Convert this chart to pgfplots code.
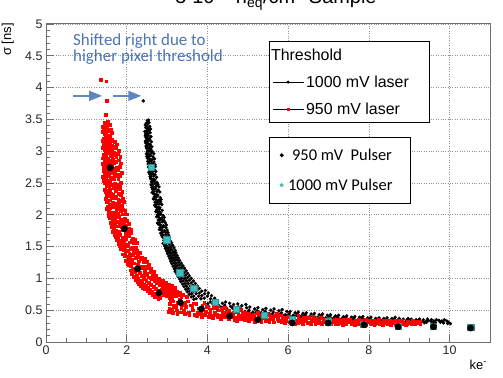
\documentclass[border=0pt]{standalone}
\usepackage{fontspec}
\setmainfont{Liberation Sans}
\newfontfamily\calibri{Carlito}
\usepackage{pgfplots}
\pgfplotsset{compat=1.18}
\usetikzlibrary{arrows.meta}
\definecolor{annblue}{HTML}{4A74B4}
\definecolor{arrblue}{HTML}{5F86BE}
\definecolor{pulcyan}{HTML}{3CBFBF}
\definecolor{framegrey}{HTML}{6E6E6E}

\begin{document}
\begin{tikzpicture}
\pgfplotsset{
  rootframe/.style={
    at={(46bp,36bp)}, anchor=south west,
    scale only axis, width=444bp, height=318bp,
    xmin=0, xmax=11, ymin=0, ymax=5,
  },
  lineleg/.style={legend image code/.code={
      \draw[black,line width=0.8bp] (0bp,0bp) -- (31bp,0bp);
      \draw[##1] plot coordinates {(15.5bp,0bp)};}},
  dotleg/.style={legend image code/.code={
      \path (0bp,0bp) (12bp,0bp);
      \draw[##1] plot coordinates {(8bp,0bp)};}},
  noleg/.style={legend image code/.code={\path (0bp,0bp);}},
}
% main axis: laser scans
\begin{axis}[rootframe,
  xtick={0,2,...,10}, ytick={0,0.5,...,5},
  minor x tick num=3, minor y tick num=4,
  tick align=inside, xtick pos=left, ytick pos=left,
  major tick length=8bp, minor tick length=4bp,
  tick style={framegrey, line width=0.6bp},
  axis line style={framegrey, line width=1bp},
  grid=major, major grid style={dotted, gray!85, line width=0.6bp},
  ticklabel style={font=\fontsize{12.5}{14}\selectfont, text=black!85},
  /pgf/number format/assume math mode=true,
  /pgf/number format/fixed,
  legend style={at={(rel axis cs:0.502,0.946)}, anchor=north west,
    draw=black, line width=0.8bp, fill=white,
    font=\fontsize{16}{18}\selectfont, row sep=10bp,
    inner xsep=3bp, inner ysep=5bp},
  legend cell align=left,
]
\addlegendimage{noleg}
\addlegendentry{\hspace*{-35bp}Threshold}
\addlegendimage{lineleg, only marks, mark=*, black, mark size=1.1bp}
\addlegendentry{\makebox[118bp][l]{1000 mV laser}}
\addlegendimage{lineleg, only marks, mark=square*, red, mark size=1.1bp}
\addlegendentry{950 mV laser}

% 1000 mV laser
\addplot[forget plot, only marks, mark=*, black, mark size=1.5bp] coordinates {
(2.41,3.79)
(2.51,3.48)(2.54,3.49)(2.48,3.44)(2.55,3.45)(2.52,3.43)(2.50,3.40)(2.46,3.41)(2.57,3.39)
(2.53,3.36)(2.47,3.37)(2.59,3.35)(2.50,3.36)(2.49,3.32)(2.56,3.33)(2.45,3.31)(2.52,3.32)
(2.51,3.28)(2.58,3.29)(2.47,3.27)(2.54,3.28)(2.46,3.24)(2.53,3.25)(2.60,3.23)(2.50,3.24)
(2.52,3.20)(2.48,3.21)(2.57,3.19)(2.55,3.20)(2.49,3.16)(2.55,3.17)(2.61,3.15)(2.46,3.16)
(2.53,3.12)(2.47,3.13)(2.58,3.11)(2.51,3.12)(2.50,3.08)(2.56,3.09)(2.62,3.07)(2.48,3.08)
(2.54,3.04)(2.49,3.05)(2.60,3.03)(2.57,3.04)(2.51,3.00)(2.58,3.01)(2.64,2.99)(2.55,3.00)
(2.49,2.96)(2.61,2.97)(2.55,2.95)(2.67,2.96)(2.53,2.92)(2.59,2.93)(2.65,2.91)(2.50,2.92)
(2.56,2.88)(2.51,2.89)(2.63,2.87)(2.69,2.88)(2.52,2.84)(2.60,2.85)(2.67,2.83)(2.57,2.84)
(2.55,2.80)(2.62,2.81)(2.70,2.79)(2.53,2.80)(2.58,2.76)(2.65,2.77)(2.54,2.75)(2.71,2.76)
(2.56,2.72)(2.63,2.73)(2.69,2.71)(2.60,2.72)(2.59,2.68)(2.66,2.69)(2.55,2.67)(2.72,2.68)
(2.57,2.64)(2.64,2.65)(2.70,2.63)(2.61,2.64)(2.60,2.60)(2.67,2.61)(2.74,2.59)(2.58,2.60)
(2.62,2.56)(2.59,2.57)(2.70,2.55)(2.66,2.56)(2.61,2.52)(2.68,2.53)(2.75,2.51)(2.64,2.52)
(2.63,2.48)(2.70,2.49)(2.60,2.47)(2.77,2.48)(2.66,2.44)(2.73,2.45)(2.62,2.43)(2.80,2.44)
(2.64,2.40)(2.71,2.41)(2.78,2.39)(2.68,2.40)(2.67,2.36)(2.75,2.37)(2.63,2.35)(2.82,2.36)
(2.70,2.32)(2.66,2.33)(2.77,2.31)(2.73,2.32)(2.68,2.28)(2.75,2.29)(2.83,2.27)(2.71,2.28)
(2.72,2.24)(2.66,2.25)(2.79,2.23)(2.85,2.24)(2.70,2.20)(2.77,2.21)(2.74,2.19)(2.84,2.20)
(2.73,2.16)(2.80,2.17)(2.69,2.15)(2.87,2.16)(2.75,2.12)(2.71,2.13)(2.82,2.11)(2.78,2.12)
(2.74,2.08)(2.81,2.09)(2.88,2.07)(2.77,2.08)(2.78,2.04)(2.72,2.05)(2.84,2.03)(2.80,2.04)
(2.76,2.00)(2.83,2.01)(2.90,1.99)(2.79,2.00)(2.80,1.96)(2.74,1.97)(2.87,1.95)(2.93,1.96)
(2.78,1.92)(2.85,1.93)(2.92,1.91)(2.82,1.92)(2.81,1.88)(2.88,1.89)(2.76,1.87)(2.95,1.88)
(2.84,1.84)(2.79,1.85)(2.91,1.83)(2.98,1.84)(2.83,1.80)(2.90,1.81)(2.86,1.79)(2.97,1.80)
(2.86,1.76)(2.81,1.77)(2.93,1.75)(3.00,1.76)(2.88,1.72)(2.95,1.73)(2.84,1.71)(3.02,1.72)
(2.90,1.68)(2.97,1.69)(2.87,1.67)(3.04,1.68)(2.93,1.64)(2.89,1.65)(3.00,1.63)(3.06,1.64)
(2.92,1.60)(3.00,1.61)(3.08,1.59)(2.96,1.60)(2.95,1.56)(3.03,1.57)(2.90,1.55)(3.11,1.56)
(2.98,1.52)(3.06,1.53)(2.94,1.51)(3.14,1.52)
(3.00,1.48)(3.09,1.49)(2.96,1.47)(3.17,1.48)(3.04,1.48)(3.03,1.44)(3.12,1.45)(2.99,1.43)(3.20,1.44)(3.07,1.44)
(3.06,1.40)(3.15,1.41)(3.01,1.39)(3.22,1.40)(3.10,1.40)(3.08,1.36)(3.18,1.37)(3.04,1.35)(3.25,1.36)(3.13,1.36)
(3.11,1.32)(3.21,1.33)(3.07,1.31)(3.28,1.32)(3.16,1.32)(3.14,1.28)(3.24,1.29)(3.09,1.27)(3.31,1.28)(3.19,1.28)
(3.17,1.24)(3.28,1.25)(3.12,1.23)(3.35,1.24)(3.22,1.24)(3.20,1.20)(3.31,1.21)(3.15,1.19)(3.39,1.20)(3.25,1.20)
(3.22,1.16)(3.35,1.17)(3.18,1.15)(3.43,1.16)(3.29,1.16)(3.26,1.12)(3.38,1.13)(3.20,1.11)(3.47,1.12)(3.32,1.12)
(3.29,1.08)(3.42,1.09)(3.24,1.07)(3.51,1.08)(3.36,1.08)(3.33,1.04)(3.46,1.05)(3.27,1.03)(3.55,1.04)(3.40,1.04)
(3.36,1.00)(3.50,1.01)(3.31,0.99)(3.60,1.00)(3.44,1.00)(3.40,0.96)(3.55,0.97)(3.34,0.95)(3.65,0.96)(3.48,0.96)
(3.44,0.92)(3.60,0.93)(3.38,0.91)(3.70,0.92)(3.52,0.92)(3.48,0.88)(3.64,0.89)(3.42,0.87)(3.75,0.88)(3.57,0.88)
(3.52,0.84)(3.69,0.85)(3.46,0.83)(3.80,0.84)(3.62,0.84)
(3.56,0.80)(3.74,0.81)(3.50,0.79)(3.86,0.80)(3.66,0.80)(3.95,0.81)(3.61,0.76)(3.80,0.77)(3.55,0.75)(3.93,0.76)(3.72,0.76)(4.02,0.77)
(3.66,0.72)(3.86,0.73)(3.60,0.71)(4.00,0.72)(3.78,0.72)(4.10,0.73)(3.72,0.68)(3.92,0.69)(3.66,0.67)(4.08,0.68)(3.84,0.68)(4.18,0.69)
(4.03,0.56)(4.07,0.63)(4.05,0.52)(4.01,0.60)(4.13,0.60)(4.17,0.54)(4.15,0.66)
(4.23,0.52)(4.27,0.58)(4.25,0.64)(4.21,0.55)(4.33,0.55)(4.37,0.61)(4.35,0.50)
(4.43,0.58)(4.47,0.53)(4.45,0.63)(4.41,0.56)(4.53,0.50)(4.57,0.56)(4.55,0.61)
(4.63,0.53)(4.67,0.47)(4.65,0.59)(4.61,0.55)(4.73,0.49)(4.77,0.55)(4.75,0.60)
(4.83,0.52)(4.87,0.46)(4.85,0.57)(4.81,0.50)(4.93,0.48)(4.97,0.54)(4.95,0.59)
(5.03,0.50)(5.07,0.45)(5.05,0.55)(5.01,0.48)(5.13,0.47)(5.17,0.52)(5.15,0.42)
(5.23,0.49)(5.27,0.44)(5.25,0.54)(5.21,0.47)(5.33,0.46)(5.37,0.51)(5.35,0.41)
(5.43,0.48)(5.47,0.43)(5.45,0.53)(5.41,0.45)(5.53,0.45)(5.57,0.50)(5.55,0.41)
(5.63,0.47)(5.67,0.42)(5.65,0.52)(5.61,0.44)(5.73,0.44)(5.77,0.49)(5.75,0.40)
(5.83,0.46)(5.87,0.42)(5.85,0.51)(5.81,0.44)(5.93,0.43)(5.97,0.48)(5.95,0.40)
(6.03,0.45)(6.07,0.40)(6.05,0.48)(6.01,0.43)(6.13,0.42)(6.17,0.46)(6.15,0.38)
(6.23,0.44)(6.27,0.39)(6.25,0.47)(6.21,0.42)(6.33,0.41)(6.37,0.45)(6.35,0.37)
(6.43,0.43)(6.47,0.39)(6.45,0.46)(6.41,0.41)(6.53,0.40)(6.57,0.44)(6.55,0.37)
(6.63,0.42)(6.67,0.38)(6.65,0.45)(6.61,0.40)(6.73,0.39)(6.77,0.43)(6.75,0.36)
(6.83,0.41)(6.87,0.37)(6.85,0.44)(6.81,0.39)(6.93,0.38)(6.97,0.42)(6.95,0.36)
(7.03,0.40)(7.07,0.36)(7.05,0.43)(7.01,0.38)(7.13,0.38)(7.17,0.41)(7.15,0.34)
(7.23,0.39)(7.27,0.35)(7.25,0.42)(7.21,0.37)(7.33,0.37)(7.37,0.40)(7.35,0.34)
(7.43,0.38)(7.47,0.35)(7.45,0.41)(7.41,0.36)(7.53,0.36)(7.57,0.39)(7.55,0.33)
(7.63,0.38)(7.67,0.34)(7.65,0.40)(7.61,0.36)(7.73,0.35)(7.77,0.39)(7.75,0.37)
(7.83,0.37)(7.87,0.33)(7.85,0.40)(7.81,0.35)(7.93,0.35)(7.97,0.38)(7.95,0.34)
(8.03,0.36)(8.07,0.33)(8.05,0.39)(8.01,0.35)(8.13,0.34)(8.17,0.37)(8.15,0.31)
(8.23,0.36)(8.27,0.32)(8.25,0.38)(8.21,0.34)(8.33,0.33)(8.37,0.37)(8.35,0.35)
(8.43,0.35)(8.47,0.31)(8.45,0.38)(8.41,0.33)(8.53,0.34)(8.57,0.37)(8.55,0.32)
(8.63,0.36)(8.67,0.33)(8.65,0.39)(8.61,0.34)(8.73,0.32)(8.77,0.35)(8.75,0.37)
(8.83,0.34)(8.87,0.31)(8.85,0.36)(8.81,0.33)(8.93,0.33)(8.97,0.37)(8.95,0.35)
(9.03,0.34)(9.07,0.31)(9.05,0.36)(9.01,0.33)(9.13,0.32)(9.17,0.35)(9.15,0.30)
(9.23,0.34)(9.27,0.31)(9.25,0.36)(9.21,0.33)(9.33,0.33)(9.37,0.30)(9.35,0.35)
(9.43,0.31)(9.47,0.34)(9.45,0.36)(9.41,0.32)(9.53,0.33)(9.57,0.30)(9.55,0.35)
(9.63,0.32)(9.67,0.35)(9.65,0.30)(9.61,0.33)(9.73,0.34)(9.77,0.31)(9.75,0.33)
(9.83,0.32)(9.87,0.35)(9.85,0.30)(9.81,0.33)(9.93,0.33)(9.97,0.31)(9.95,0.29)
(10.02,0.29)
};

% 950 mV laser
\addplot[forget plot, only marks, mark=square*, red, mark size=1.4bp] coordinates {
(1.36,4.12)(1.49,4.10)(1.50,3.80)(1.48,3.58)
(1.44,3.45)(1.52,3.47)(1.47,3.40)(1.58,3.42)(1.41,3.39)(1.50,3.35)(1.43,3.37)(1.61,3.34)
(1.46,3.30)(1.55,3.32)(1.62,3.29)(1.40,3.31)(1.52,3.25)(1.44,3.27)(1.59,3.24)(1.49,3.26)
(1.42,3.20)(1.56,3.22)(1.63,3.19)(1.48,3.21)(1.53,3.18)
(1.45,3.15)(1.60,3.17)(1.51,3.14)(1.41,3.16)(1.57,3.13)(1.70,3.15)
(1.49,3.10)(1.43,3.12)(1.62,3.09)(1.54,3.11)(1.66,3.08)(1.76,3.11)
(1.41,3.05)(1.53,3.07)(1.58,3.04)(1.46,3.06)(1.64,3.03)(1.72,3.06)
(1.50,3.00)(1.44,3.02)(1.61,2.99)(1.56,3.01)(1.68,2.98)(1.80,3.01)
(1.42,2.95)(1.55,2.97)(1.70,2.94)(1.48,2.96)(1.62,2.93)(1.78,2.96)
(1.47,2.90)(1.60,2.92)(1.41,2.89)(1.74,2.91)(1.53,2.88)(1.84,2.91)
(1.44,2.85)(1.66,2.87)(1.51,2.84)(1.58,2.86)(1.72,2.83)(1.80,2.86)
(1.40,2.80)(1.57,2.82)(1.49,2.79)(1.68,2.81)(1.63,2.78)(1.86,2.81)
(1.46,2.75)(1.54,2.77)(1.75,2.74)(1.43,2.76)(1.61,2.73)(1.82,2.76)
(1.50,2.70)(1.65,2.72)(1.42,2.69)(1.58,2.71)(1.71,2.68)(1.78,2.71)
(1.45,2.65)(1.53,2.67)(1.69,2.64)(1.62,2.66)(1.77,2.63)(1.87,2.66)
(1.41,2.60)(1.56,2.62)(1.48,2.59)(1.73,2.61)(1.64,2.58)(1.83,2.61)
(1.47,2.55)(1.60,2.57)(1.52,2.54)(1.67,2.56)(1.43,2.53)(1.79,2.56)
(1.44,2.50)(1.58,2.52)(1.70,2.49)(1.50,2.51)(1.76,2.48)(1.86,2.51)
(1.49,2.45)(1.62,2.47)(1.78,2.44)(1.55,2.46)(1.70,2.43)(1.84,2.46)
(1.46,2.40)(1.67,2.42)(1.58,2.39)(1.83,2.41)(1.52,2.38)(1.74,2.41)
(1.51,2.35)(1.73,2.37)(1.60,2.34)(1.47,2.36)(1.80,2.33)(1.89,2.36)
(1.55,2.30)(1.66,2.32)(1.49,2.29)(1.86,2.31)(1.74,2.28)(1.60,2.31)
(1.48,2.25)(1.62,2.27)(1.79,2.24)(1.70,2.26)(1.57,2.23)(1.90,2.26)
(1.53,2.20)(1.85,2.22)(1.65,2.19)(1.50,2.21)(1.75,2.18)(1.93,2.21)
(1.58,2.15)(1.71,2.17)(1.89,2.14)(1.62,2.16)(1.52,2.13)(1.80,2.16)
(1.50,2.10)(1.67,2.12)(1.80,2.09)(1.59,2.11)(1.91,2.08)(1.74,2.11)
(1.56,2.05)(1.74,2.07)(1.63,2.04)(1.86,2.06)(1.69,2.03)(1.96,2.06)
(1.60,2.00)(1.78,2.02)(1.54,1.99)(1.90,2.01)(1.70,1.98)(1.99,2.01)
(1.62,1.95)(1.80,1.97)(1.95,1.94)(1.71,1.96)(1.88,1.93)(1.58,1.96)
(1.66,1.90)(1.85,1.92)(1.75,1.89)(2.00,1.91)(1.60,1.88)(1.93,1.91)
(1.70,1.85)(1.92,1.87)(1.63,1.84)(1.82,1.86)(1.98,1.83)(2.05,1.86)
(1.68,1.80)(1.77,1.82)(1.96,1.79)(1.87,1.81)(2.04,1.78)(1.62,1.81)
(1.72,1.75)(1.90,1.77)(1.81,1.74)(2.02,1.76)(1.66,1.73)(2.10,1.76)
(1.75,1.70)(1.96,1.72)(1.84,1.69)(2.10,1.71)(1.69,1.68)(2.02,1.71)
(1.78,1.65)(2.05,1.67)(1.90,1.64)(1.72,1.66)(2.15,1.63)(1.98,1.66)
(1.82,1.60)(1.98,1.62)(2.12,1.59)(1.76,1.61)(1.92,1.58)(2.20,1.61)
(1.86,1.55)(2.08,1.57)(1.80,1.54)(2.18,1.56)(1.97,1.53)(2.24,1.56)
(1.89,1.50)(2.02,1.52)(2.15,1.49)(1.83,1.51)(2.22,1.48)(1.95,1.51)
(1.92,1.45)(2.10,1.47)(2.26,1.44)(1.85,1.46)(2.03,1.43)(2.18,1.46)
(1.96,1.40)(2.18,1.42)(2.06,1.39)(2.32,1.41)(1.90,1.38)(2.25,1.41)
(2.00,1.35)(2.14,1.37)(2.28,1.34)(1.94,1.36)(2.38,1.33)(2.08,1.36)
(2.04,1.30)(2.22,1.32)(2.12,1.29)(2.35,1.31)(1.98,1.28)(2.44,1.31)
(2.08,1.25)(2.30,1.27)(2.18,1.24)(2.42,1.26)(2.02,1.23)(2.50,1.26)
(2.10,1.20)(2.28,1.22)(2.45,1.19)(2.05,1.21)(2.36,1.18)(2.55,1.21)
(2.15,1.15)(2.38,1.17)(2.25,1.14)(2.52,1.16)(2.09,1.13)(2.60,1.16)
(2.20,1.10)(2.44,1.12)(2.32,1.09)(2.58,1.11)(2.13,1.08)(2.66,1.11)
(2.24,1.05)(2.50,1.07)(2.37,1.04)(2.64,1.06)(2.18,1.03)(2.45,1.06)(2.72,1.05)
(2.28,1.00)(2.55,1.02)(2.42,0.99)(2.70,1.01)(2.22,0.98)(2.60,1.01)(2.80,1.00)
(2.32,0.97)(2.62,0.99)(2.48,0.96)(2.80,0.98)(2.26,0.95)(2.70,0.98)(2.90,0.97)
(2.38,0.94)(2.68,0.96)(2.54,0.93)(2.88,0.95)(2.30,0.92)(2.76,0.95)(2.98,0.94)
(2.42,0.91)(2.75,0.93)(2.60,0.90)(2.95,0.92)(2.35,0.89)(2.84,0.92)(3.05,0.91)
(2.47,0.88)(2.82,0.90)(2.66,0.87)(3.02,0.89)(2.40,0.86)(2.92,0.89)(3.12,0.88)
(2.52,0.85)(2.88,0.87)(2.72,0.84)(3.10,0.86)(2.45,0.83)(2.98,0.86)(3.20,0.85)
(2.58,0.82)(2.95,0.84)(2.78,0.81)(3.18,0.83)(2.52,0.80)(3.05,0.83)(2.86,0.82)
(2.63,0.79)(3.02,0.81)(2.85,0.78)(3.25,0.80)(2.57,0.77)(3.12,0.80)(2.92,0.79)
(2.70,0.76)(3.08,0.78)(2.92,0.75)(3.32,0.77)(2.64,0.74)(3.20,0.77)(3.00,0.76)
(2.76,0.73)(3.15,0.75)(2.98,0.72)(3.40,0.74)(2.70,0.71)(3.28,0.74)(3.06,0.73)
(2.82,0.70)(3.22,0.72)(3.05,0.69)(3.48,0.71)(2.78,0.68)(3.35,0.71)(3.12,0.70)
(3.03,0.48)(3.07,0.60)(3.05,0.53)(3.08,0.66)(3.13,0.46)(3.17,0.57)(3.15,0.64)(3.12,0.51)
(3.23,0.50)(3.27,0.62)(3.25,0.45)(3.22,0.56)(3.33,0.47)(3.37,0.59)(3.35,0.53)(3.32,0.67)
(3.43,0.44)(3.47,0.55)(3.45,0.62)(3.42,0.50)(3.53,0.46)(3.57,0.58)(3.55,0.42)(3.52,0.64)
(3.63,0.50)(3.67,0.43)(3.65,0.61)(3.62,0.55)(3.73,0.41)(3.77,0.53)(3.75,0.47)(3.72,0.60)
(3.83,0.45)(3.87,0.57)(3.85,0.40)(3.82,0.51)(3.93,0.43)(3.97,0.55)(3.95,0.48)(3.92,0.62)
(4.03,0.40)(4.07,0.51)(4.05,0.45)(4.02,0.56)(4.13,0.38)(4.17,0.47)(4.15,0.54)(4.12,0.42)
(4.23,0.43)(4.27,0.50)(4.25,0.39)(4.22,0.56)(4.33,0.37)(4.37,0.46)(4.35,0.52)(4.32,0.41)
(4.43,0.40)(4.47,0.49)(4.45,0.44)(4.42,0.54)(4.53,0.36)(4.57,0.45)(4.55,0.41)(4.52,0.50)
(4.63,0.39)(4.67,0.35)(4.65,0.47)(4.62,0.43)(4.73,0.34)(4.77,0.42)(4.75,0.48)(4.72,0.38)
(4.83,0.37)(4.87,0.45)(4.85,0.40)(4.82,0.51)(4.93,0.35)(4.97,0.43)(4.95,0.39)(4.92,0.47)
(5.03,0.33)(5.07,0.41)(5.05,0.37)(5.02,0.45)(5.13,0.36)(5.17,0.32)(5.15,0.43)(5.12,0.39)
(5.23,0.34)(5.27,0.40)(5.25,0.46)(5.22,0.37)(5.33,0.31)(5.37,0.38)(5.35,0.42)(5.32,0.35)
(5.43,0.35)(5.47,0.44)(5.45,0.33)(5.42,0.40)(5.53,0.32)(5.57,0.38)(5.55,0.36)(5.52,0.43)
(5.63,0.34)(5.67,0.41)(5.65,0.31)(5.62,0.37)(5.73,0.36)(5.77,0.33)(5.75,0.40)(5.72,0.44)
(5.83,0.31)(5.87,0.38)(5.85,0.35)(5.82,0.42)(5.93,0.33)(5.97,0.39)(5.95,0.36)(5.92,0.30)
(6.03,0.31)(6.07,0.37)(6.05,0.34)(6.02,0.40)(6.13,0.33)(6.17,0.29)(6.15,0.38)(6.12,0.35)
(6.23,0.30)(6.27,0.36)(6.25,0.41)(6.22,0.33)(6.33,0.32)(6.37,0.38)(6.35,0.29)(6.32,0.35)
(6.43,0.34)(6.47,0.30)(6.45,0.39)(6.42,0.36)(6.53,0.31)(6.57,0.35)(6.55,0.28)(6.52,0.38)
(6.63,0.33)(6.67,0.29)(6.65,0.37)(6.62,0.40)(6.73,0.30)(6.77,0.34)(6.75,0.32)(6.72,0.37)
(6.83,0.28)(6.87,0.35)(6.85,0.31)(6.82,0.38)(6.93,0.32)(6.97,0.29)(6.95,0.36)(6.92,0.34)
(7.03,0.30)(7.07,0.34)(7.05,0.28)(7.02,0.37)(7.13,0.32)(7.17,0.29)(7.15,0.35)(7.12,0.31)
(7.23,0.28)(7.27,0.33)(7.25,0.30)(7.22,0.36)(7.33,0.31)(7.37,0.35)(7.35,0.27)(7.32,0.33)
(7.43,0.29)(7.47,0.32)(7.45,0.36)(7.42,0.30)(7.53,0.33)(7.57,0.28)(7.55,0.31)(7.52,0.35)
(7.63,0.30)(7.67,0.34)(7.65,0.27)(7.62,0.32)(7.73,0.28)(7.77,0.31)(7.75,0.35)(7.72,0.33)
(7.83,0.32)(7.87,0.29)(7.85,0.34)(7.82,0.30)(7.93,0.27)(7.97,0.31)(7.95,0.33)(7.92,0.36)
(8.03,0.30)(8.07,0.28)(8.05,0.33)(8.02,0.31)(8.13,0.27)(8.17,0.32)(8.15,0.29)(8.12,0.34)
(8.23,0.31)(8.27,0.28)(8.25,0.35)(8.22,0.30)(8.33,0.29)(8.37,0.33)(8.35,0.27)(8.32,0.31)
(8.43,0.32)(8.47,0.28)(8.45,0.30)(8.42,0.34)(8.53,0.27)(8.57,0.31)(8.55,0.29)(8.52,0.33)
(8.63,0.30)(8.67,0.34)(8.65,0.28)(8.62,0.32)(8.73,0.29)(8.77,0.27)(8.75,0.31)(8.72,0.33)
(8.83,0.31)(8.87,0.28)(8.85,0.30)(8.82,0.34)(8.93,0.28)(8.97,0.32)(8.95,0.30)(8.92,0.27)
(9.03,0.30)(9.07,0.33)(9.05,0.28)(9.02,0.31)(9.13,0.29)(9.17,0.31)(9.15,0.32)
(9.23,0.30)(9.27,0.28)(9.25,0.32)
};

% annotation arrows
\draw[arrblue, line width=1.5bp, -{Triangle[length=13bp,width=10bp]}] (axis cs:0.67,3.87) -- (axis cs:1.39,3.87);
\draw[arrblue, line width=1.5bp, -{Triangle[length=13bp,width=10bp]}] (axis cs:1.66,3.87) -- (axis cs:2.36,3.87);
\end{axis}

% overlay axis: pulser points and their legend
\begin{axis}[rootframe, hide axis,
  legend style={at={(rel axis cs:0.502,0.645)}, anchor=north west,
    draw=black, line width=0.8bp, fill=white,
    font=\calibri\fontsize{16.5}{18}\selectfont, row sep=13bp,
    inner xsep=4bp, inner ysep=9.5bp},
  legend cell align=left,
]
\addlegendimage{dotleg, only marks, mark=*, black, mark size=1.6bp}
\addlegendentry{\makebox[116bp][l]{\hspace*{4bp}950 mV\ \ Pulser}}
\addlegendimage{dotleg, only marks, mark=*, pulcyan, mark size=1.6bp}
\addlegendentry{1000 mV Pulser}
% 1000 mV pulser
\addplot[forget plot, only marks, mark=square*, mark size=3.2bp, draw=pulcyan!75!black, fill=pulcyan] coordinates {
(2.60,2.75)(2.99,1.61)(3.31,1.09)(3.66,0.85)(4.19,0.63)(4.71,0.52)(5.41,0.42)(6.10,0.36)(6.99,0.32)(7.86,0.28)(8.73,0.25)(9.60,0.25)(10.52,0.23)
};
% 950 mV pulser
\addplot[forget plot, only marks, mark=*, mark size=3.2bp, black] coordinates {
(1.59,2.74)(1.94,1.78)(2.27,1.15)(2.80,0.77)(3.33,0.62)(3.85,0.52)(4.55,0.41)(5.25,0.35)(6.10,0.30)(6.99,0.30)(7.88,0.27)(8.72,0.24)(9.60,0.24)(10.52,0.22)
};
\end{axis}

% title (cut by the top edge, as in the original)
\node[anchor=base, font=\fontsize{20}{22}\selectfont] at (276bp,374bp)
  {5$\cdot$10\textsuperscript{15} n\textsubscript{eq}/cm\textsuperscript{2} Sample};
% axis titles
\node[rotate=90, anchor=south east, inner sep=0pt, font=\fontsize{13}{14}\selectfont] at (14bp,355bp) {σ [ns]};
\node[anchor=base east, inner sep=0pt, font=\fontsize{13}{14}\selectfont] at (487bp,9bp) {ke\textsuperscript{-}};
% blue note
\node[anchor=base west, inner sep=0pt, text=annblue, font=\calibri\fontsize{17}{18}\selectfont] at (73bp,332bp) {Shifted right due to};
\node[anchor=base west, inner sep=0pt, text=annblue, font=\calibri\fontsize{17}{18}\selectfont] at (73bp,316bp) {higher pixel threshold};

\pgfresetboundingbox
\path[use as bounding box] (0bp,0bp) rectangle (503bp,378bp);
\end{tikzpicture}
\end{document}
